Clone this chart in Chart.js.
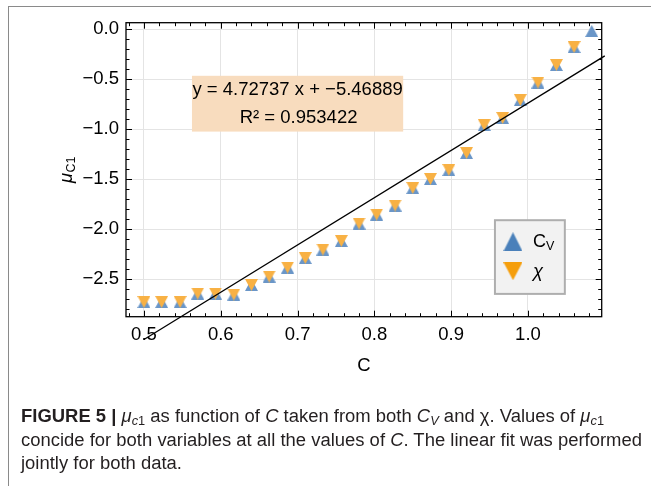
<!DOCTYPE html>
<html>
<head>
<meta charset="utf-8">
<script src="https://cdn.jsdelivr.net/npm/chart.js@4.4.1/dist/chart.umd.min.js"></script>
<style>
  html, body { margin: 0; padding: 0; background: #fff; }
  #wrap { position: relative; width: 651px; height: 486px; overflow: hidden; }
  #chart { position: absolute; left: 0; top: 0; }
  #frameTop { position: absolute; left: 8px; top: 6px; width: 643px; border-top: 1px solid #8a8a8a; }
  #frameLeft { position: absolute; left: 8px; top: 6px; height: 480px; border-left: 1px solid #8a8a8a; }
  #caption {
    position: absolute; left: 21px; top: 405px;
    font-family: "Liberation Sans", Arial, sans-serif; font-size: 18px; line-height: 23.5px;
    color: #231f20; white-space: nowrap; transform-origin: 0 0;
  }
  #caption sub { font-size: 12.5px; line-height: 0; vertical-align: -3px; }
</style>
</head>
<body>
<div id="wrap">
  <canvas id="chart" width="651" height="486"></canvas>
  <div id="frameTop"></div>
  <div id="frameLeft"></div>
  <div id="caption">
    <div><b>FIGURE 5 |</b> <i>μ</i><sub><i>c</i>1</sub> as function of <i>C</i> taken from both <i>C<sub>V</sub></i> and χ. Values of <i>μ</i><sub><i>c</i>1</sub></div>
    <div id="capLine2">concide for both variables at all the values of <i>C</i>. The linear fit was performed</div>
    <div>jointly for both data.</div>
  </div>
</div>
<script>
// data
const cValues = [0.500, 0.523, 0.547, 0.570, 0.593, 0.617, 0.640, 0.663, 0.687, 0.710, 0.733, 0.757, 0.780,
                 0.803, 0.827, 0.850, 0.873, 0.897, 0.920, 0.943, 0.967, 0.990, 1.013, 1.037, 1.060, 1.083];
const muFromCv = [-2.73, -2.73, -2.73, -2.645, -2.645, -2.655, -2.56, -2.475, -2.385, -2.29, -2.205, -2.12, -1.945,
                  -1.855, -1.765, -1.59, -1.50, -1.41, -1.24, -0.96, -0.89, -0.71, -0.535, -0.36, -0.18, -0.02];
const muFromChi = [-2.73, -2.73, -2.73, -2.645, -2.645, -2.655, -2.56, -2.475, -2.385, -2.29, -2.205, -2.12, -1.945,
                   -1.855, -1.765, -1.59, -1.50, -1.41, -1.24, -0.96, -0.89, -0.71, -0.535, -0.36, -0.18];
const xTicks = [0.5, 0.6, 0.7, 0.8, 0.9, 1.0];
const yTicks = [0.0, -0.5, -1.0, -1.5, -2.0, -2.5];

// linear fit given in the figure
const fitSlope = 4.72737;
const fitIntercept = -5.46889;
const fitR2 = 0.953422;
const fitRange = [0.5, 1.1];

const FONT = '"Liberation Sans", Arial, sans-serif';
const blueMark = 'rgb(106,150,200)';
const orangeMark = 'rgb(248,177,68)';
const blueLegend = 'rgb(74,128,186)';
const orangeLegend = 'rgb(245,158,12)';

// triangle markers centred on their bounding box (like the Mathematica glyphs)
function triangleImage(color, down, w, h) {
    const c = document.createElement('canvas');
    c.width = w; c.height = h;
    const ctx = c.getContext('2d');
    ctx.fillStyle = color;
    ctx.beginPath();
    if (down) {
        ctx.moveTo(0, 0); ctx.lineTo(w, 0); ctx.lineTo(w / 2, h);
    } else {
        ctx.moveTo(w / 2, 0); ctx.lineTo(w, h); ctx.lineTo(0, h);
    }
    ctx.closePath();
    ctx.fill();
    return c;
}
const upMark = triangleImage(blueMark, false, 13, 12);
const downMark = triangleImage(orangeMark, true, 13, 12);

function minusLabel(v) {
    return (v < -1e-9 ? '\u2212' : '') + Math.abs(v).toFixed(1);
}

// frame, inward ticks, fit box, legend and axis titles
const decor = {
    id: 'decor',
    afterDraw(chart) {
        const { ctx, chartArea: a, scales: { x, y } } = chart;
        ctx.save();
        ctx.strokeStyle = '#000';
        ctx.lineWidth = 1.3;
        ctx.strokeRect(a.left, a.top, a.right - a.left, a.bottom - a.top);

        ctx.lineWidth = 1;
        ctx.beginPath();
        for (let k = 24; k <= 54; k++) {
            const v = k / 50;
            const px = Math.round(x.getPixelForValue(v)) + 0.5;
            const len = (k % 5 === 0) ? 6 : 3.5;
            ctx.moveTo(px, a.bottom); ctx.lineTo(px, a.bottom - len);
            ctx.moveTo(px, a.top); ctx.lineTo(px, a.top + len);
        }
        for (let k = 0; k >= -28; k--) {
            const v = k / 10;
            const py = Math.round(y.getPixelForValue(v)) + 0.5;
            const len = (k % 5 === 0) ? 6 : 3.5;
            ctx.moveTo(a.left, py); ctx.lineTo(a.left + len, py);
            ctx.moveTo(a.right, py); ctx.lineTo(a.right - len, py);
        }
        ctx.stroke();

        // fit annotation
        const bx0 = x.getPixelForValue(0.5625), bx1 = x.getPixelForValue(0.8375);
        const by0 = y.getPixelForValue(-0.468), by1 = y.getPixelForValue(-1.026);
        ctx.fillStyle = 'rgb(248,220,190)';
        ctx.fillRect(bx0, by0, bx1 - bx0, by1 - by0);
        ctx.fillStyle = '#000';
        ctx.font = '18.5px ' + FONT;
        ctx.textAlign = 'center';
        ctx.textBaseline = 'middle';
        const cx = (bx0 + bx1) / 2;
        ctx.fillText('y = ' + fitSlope + ' x + \u2212' + Math.abs(fitIntercept), cx, by0 + 14.5);
        ctx.fillText('R\u00b2 = ' + fitR2, cx + 1, by0 + 42);

        // legend
        const lx0 = x.getPixelForValue(0.957), lx1 = x.getPixelForValue(1.048);
        const ly0 = y.getPixelForValue(-1.912), ly1 = y.getPixelForValue(-2.649);
        ctx.fillStyle = '#f2f2f2';
        ctx.fillRect(lx0, ly0, lx1 - lx0, ly1 - ly0);
        ctx.strokeStyle = '#aeaeae';
        ctx.lineWidth = 2;
        ctx.strokeRect(lx0, ly0, lx1 - lx0, ly1 - ly0);
        ctx.drawImage(triangleImage(blueLegend, false, 19, 19), lx0 + 8.5, ly0 + 12);
        ctx.drawImage(triangleImage(orangeLegend, true, 19, 18), lx0 + 8.5, ly0 + 42);
        ctx.fillStyle = '#000';
        ctx.textAlign = 'left';
        ctx.textBaseline = 'alphabetic';
        ctx.font = '18px ' + FONT;
        ctx.fillText('C', lx0 + 38, ly0 + 27);
        ctx.font = '12.5px ' + FONT;
        ctx.fillText('V', lx0 + 51, ly0 + 30);
        ctx.font = 'italic 18.5px ' + FONT;
        ctx.fillText('\u03c7', lx0 + 38, ly0 + 57);

        // axis titles
        ctx.font = '18.5px ' + FONT;
        ctx.textAlign = 'center';
        ctx.textBaseline = 'middle';
        ctx.fillText('C', (a.left + a.right) / 2, 366);

        ctx.translate(66, 170);
        ctx.rotate(-Math.PI / 2);
        ctx.textAlign = 'left';
        ctx.textBaseline = 'alphabetic';
        ctx.font = 'italic 18.5px ' + FONT;
        const wMu = ctx.measureText('\u03bc').width;
        ctx.font = '12.5px ' + FONT;
        const wSub = ctx.measureText('C1').width;
        const start = -(wMu + wSub) / 2;
        ctx.font = 'italic 18.5px ' + FONT;
        ctx.fillText('\u03bc', start, 6);
        ctx.font = '12.5px ' + FONT;
        ctx.fillText('C1', start + wMu + 0.5, 9);
        ctx.restore();
    }
};

const tickFont = { family: FONT, size: 18.5 };

new Chart(document.getElementById('chart'), {
    type: 'scatter',
    data: {
        datasets: [
            {
                type: 'line',
                label: 'fit',
                data: fitRange.map(c => ({ x: c, y: fitSlope * c + fitIntercept })),
                borderColor: '#000',
                borderWidth: 1.3,
                pointRadius: 0,
                clip: false,
                order: 0
            },
            {
                label: '\u03c7',
                data: muFromChi.map((v, i) => ({ x: cValues[i], y: v })),
                pointStyle: downMark,
                pointRadius: 6,
                order: 1
            },
            {
                label: 'CV',
                data: muFromCv.map((v, i) => ({ x: cValues[i], y: v })),
                pointStyle: upMark,
                pointRadius: 6,
                order: 2
            }
        ]
    },
    options: {
        responsive: false,
        animation: false,
        events: [],
        layout: { padding: { left: 0, right: 49.3, top: 22.7, bottom: 129.3 } },
        plugins: { legend: { display: false }, tooltip: { enabled: false } },
        scales: {
            x: {
                type: 'linear',
                min: 0.4766,
                max: 1.096,
                afterBuildTicks: s => { s.ticks = xTicks.map(v => ({ value: v })); },
                afterFit: s => { s.height = 40; },
                grid: { color: '#e4e4e4', lineWidth: 1, drawTicks: false },
                border: { display: false },
                ticks: { font: tickFont, color: '#000', padding: 7, maxRotation: 0, callback: v => v.toFixed(1) }
            },
            y: {
                type: 'linear',
                min: -2.877,
                max: 0.063,
                afterBuildTicks: s => { s.ticks = yTicks.map(v => ({ value: v })); },
                afterFit: s => { s.width = 126; },
                grid: { color: '#e4e4e4', lineWidth: 1, drawTicks: false },
                border: { display: false },
                ticks: { font: tickFont, color: '#000', padding: 7, callback: v => minusLabel(v) }
            }
        }
    },
    plugins: [decor]
});

// squeeze the caption so the second line spans like the original
const cap = document.getElementById('caption');
const line2 = document.getElementById('capLine2');
const range = document.createRange();
range.selectNodeContents(line2);
const w2 = range.getBoundingClientRect().width;
cap.style.transform = 'scaleX(' + (621 / w2) + ')';
</script>
</body>
</html>
